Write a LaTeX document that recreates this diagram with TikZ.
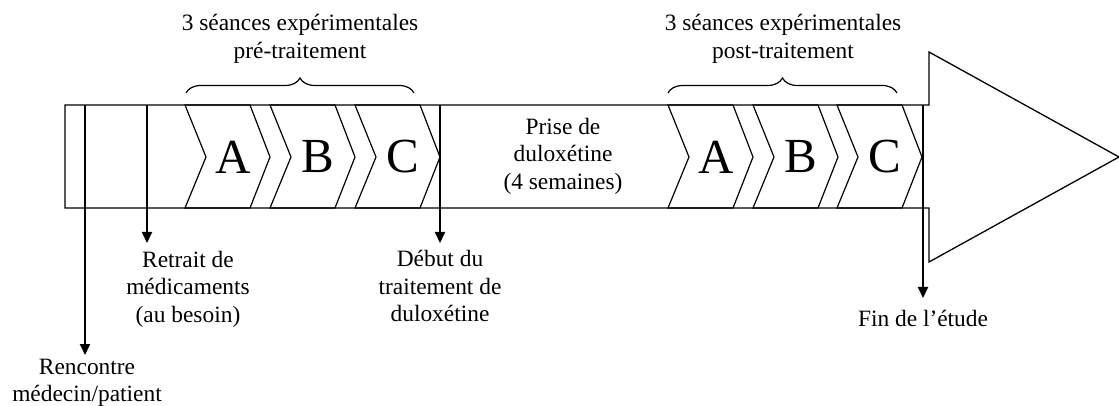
\documentclass[tikz,border=0pt]{standalone}
\usepackage{fontspec}
\setmainfont{Liberation Serif}
\usetikzlibrary{arrows.meta, positioning, decorations.pathreplacing}

\begin{document}
\begin{tikzpicture}[x=0.5pt, y=-0.5pt, line width=0.65pt,
    lbl/.style={align=center, font=\fontsize{11.7}{13.8}\selectfont, inner sep=0pt},
    letter/.style={font=\fontsize{24.5}{24.5}\selectfont, inner sep=0pt},
    chev/.style={line width=0.6pt},
    evt/.style={line width=1pt, -{Triangle[length=5.5pt, width=5pt]}},
    accol/.style={decorate, decoration={brace, amplitude=7.5pt}, line width=0.6pt}]
  \useasboundingbox (0,0) rectangle (1119,406);
  % timeline arrow
  \draw (65,105) -- (929,105) -- (929,52) -- (1119,157) -- (929,262)
    -- (929,208) -- (65,208) -- cycle;
  % sessions
  \foreach \l/\n/\t in {185/preA/A, 270/preB/B, 355/preC/C,
                        668/postA/A, 753/postB/B, 837/postC/C} {
    \draw[chev] (\l,105) -- ++(65,0) -- ++(20,52) -- ++(-20,51) -- ++(-65,0)
      -- ++(21,-51) -- cycle;
    \node[letter] (\n) at (\l+48,157) {\t};
  }
  % braces and titles
  \draw[accol] (186,93) -- (414,93);
  \draw[accol] (668,93) -- (897,93);
  \node[lbl] (preTxt) at (300,39) {3 séances expérimentales\\pré-traitement};
  \node[lbl] (postTxt) at (783,39) {3 séances expérimentales\\post-traitement};
  \node[lbl] (prise) at (563,156) {Prise de\\duloxétine\\(4 semaines)};
  % events
  \node[lbl] (rencontre) at (87,383) {Rencontre\\médecin/patient};
  \node[lbl] (retrait) at (188,289) {Retrait de\\médicaments\\(au besoin)};
  \node[lbl] (debut) at (440,286) {Début du\\traitement de\\duloxétine};
  \node[lbl] (fin) at (923,318) {Fin de l’étude};
  \coordinate (rencTop) at (85,105);
  \coordinate (rencEnd) at (85,355);
  \coordinate (retTop) at (147,105);
  \coordinate (retEnd) at (147,243);
  \coordinate (debTop) at (440,105);
  \coordinate (debEnd) at (440,243);
  \coordinate (finTop) at (923,105);
  \coordinate (finEnd) at (923,298);
  \draw[evt] (rencTop) -- (rencEnd);
  \draw[evt] (retTop) -- (retEnd);
  \draw[evt] (debTop) -- (debEnd);
  \draw[evt] (finTop) -- (finEnd);
\end{tikzpicture}
\end{document}
